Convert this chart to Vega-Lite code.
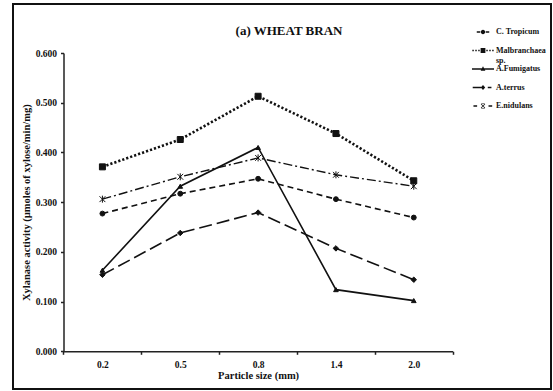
{
  "$schema": "https://vega.github.io/schema/vega-lite/v6.json",
  "width": 538,
  "height": 385,
  "autosize": {"type": "none"},
  "padding": {"left": 13, "top": 4, "right": 2, "bottom": 2},
  "background": "white",
  "config": {
    "view": {"stroke": "#111", "strokeWidth": 2},
    "font": "Liberation Serif",
    "axis": {"grid": false, "domainColor": "#222", "domainWidth": 1.5, "tickColor": "#222", "tickWidth": 1.5, "tickSize": 3, "labelFont": "Liberation Serif", "labelFontWeight": "bold", "labelFontSize": 9.5, "labelColor": "#111", "titleFont": "Liberation Serif", "titleFontWeight": "bold", "titleFontSize": 10.5, "titleColor": "#111"}
  },
  "title": {"text": "(a) WHEAT BRAN", "font": "Liberation Serif", "fontSize": 13, "fontWeight": "bold", "color": "#111", "anchor": "middle", "frame": "group", "offset": -34, "dx": 7},
  "data": {"values": [
    {"size": "0.2", "series": "C. Tropicum", "value": 0.277},
    {"size": "0.5", "series": "C. Tropicum", "value": 0.317},
    {"size": "0.8", "series": "C. Tropicum", "value": 0.347},
    {"size": "1.4", "series": "C. Tropicum", "value": 0.306},
    {"size": "2.0", "series": "C. Tropicum", "value": 0.269},
    {"size": "0.2", "series": "Malbranchaea sp.", "value": 0.371},
    {"size": "0.5", "series": "Malbranchaea sp.", "value": 0.426},
    {"size": "0.8", "series": "Malbranchaea sp.", "value": 0.513},
    {"size": "1.4", "series": "Malbranchaea sp.", "value": 0.438},
    {"size": "2.0", "series": "Malbranchaea sp.", "value": 0.343},
    {"size": "0.2", "series": "A.Fumigatus", "value": 0.163},
    {"size": "0.5", "series": "A.Fumigatus", "value": 0.332},
    {"size": "0.8", "series": "A.Fumigatus", "value": 0.410},
    {"size": "1.4", "series": "A.Fumigatus", "value": 0.124},
    {"size": "2.0", "series": "A.Fumigatus", "value": 0.102},
    {"size": "0.2", "series": "A.terrus", "value": 0.154},
    {"size": "0.5", "series": "A.terrus", "value": 0.238},
    {"size": "0.8", "series": "A.terrus", "value": 0.279},
    {"size": "1.4", "series": "A.terrus", "value": 0.207},
    {"size": "2.0", "series": "A.terrus", "value": 0.144},
    {"size": "0.2", "series": "E.nidulans", "value": 0.306},
    {"size": "0.5", "series": "E.nidulans", "value": 0.351},
    {"size": "0.8", "series": "E.nidulans", "value": 0.389},
    {"size": "1.4", "series": "E.nidulans", "value": 0.355},
    {"size": "2.0", "series": "E.nidulans", "value": 0.332}
  ]},
  "encoding": {
    "x": {"field": "size", "type": "ordinal", "sort": ["0.2", "0.5", "0.8", "1.4", "2.0"], "bandPosition": 0.5,
      "scale": {"type": "band", "range": [50.5, 439.7], "paddingInner": 0, "paddingOuter": 0},
      "axis": {"orient": "bottom", "offset": -37.7, "tickBand": "extent", "labelAngle": 0, "labelPadding": 5, "title": "Particle size (mm)", "titlePadding": 2}},
    "y": {"field": "value", "type": "quantitative",
      "scale": {"domain": [0, 0.6], "range": [347.3, 49], "nice": false, "zero": true},
      "axis": {"orient": "left", "offset": -50.5, "values": [0, 0.1, 0.2, 0.3, 0.4, 0.5, 0.6], "format": ".3f", "labelPadding": 4, "title": "Xylanase activity (µmoles of xylose/min/mg)", "titlePadding": 4}}
  },
  "layer": [
    {
      "transform": [{"filter": "datum.series == 'C. Tropicum'"}],
      "mark": {"type": "line", "color": "#111", "strokeWidth": 1.6, "strokeDash": [6, 4]},
      "encoding": {}
    },
    {
      "transform": [{"filter": "datum.series == 'Malbranchaea sp.'"}],
      "mark": {"type": "line", "color": "#111", "strokeWidth": 2.6, "strokeDash": [2.2, 2]},
      "encoding": {}
    },
    {
      "transform": [{"filter": "datum.series == 'A.Fumigatus'"}],
      "mark": {"type": "line", "color": "#111", "strokeWidth": 1.6},
      "encoding": {}
    },
    {
      "transform": [{"filter": "datum.series == 'A.terrus'"}],
      "mark": {"type": "line", "color": "#111", "strokeWidth": 1.6, "strokeDash": [13, 5]},
      "encoding": {}
    },
    {
      "transform": [{"filter": "datum.series == 'E.nidulans'"}],
      "mark": {"type": "line", "color": "#111", "strokeWidth": 1.4, "strokeDash": [9, 3, 2, 3]},
      "encoding": {}
    },
    {
      "transform": [{"filter": "datum.series == 'C. Tropicum'"}],
      "mark": {"type": "point", "shape": "circle", "size": 24, "filled": true, "color": "#111", "stroke": "#111", "strokeWidth": 1, "opacity": 1}
    },
    {
      "transform": [{"filter": "datum.series == 'Malbranchaea sp.'"}],
      "mark": {"type": "point", "shape": "square", "size": 36, "filled": true, "color": "#111", "stroke": "#111", "strokeWidth": 1, "opacity": 1}
    },
    {
      "transform": [{"filter": "datum.series == 'A.Fumigatus'"}],
      "mark": {"type": "point", "shape": "triangle-up", "size": 22, "filled": true, "color": "#111", "stroke": "#111", "strokeWidth": 1, "opacity": 1}
    },
    {
      "transform": [{"filter": "datum.series == 'A.terrus'"}],
      "mark": {"type": "point", "shape": "diamond", "size": 30, "filled": true, "color": "#111", "stroke": "#111", "strokeWidth": 1, "opacity": 1}
    },
    {
      "transform": [{"filter": "datum.series == 'E.nidulans'"}],
      "mark": {"type": "point", "shape": "M-1,-1L1,1M-1,1L1,-1M0,-1.2V1.2", "size": 34, "filled": true, "color": "#111", "stroke": "#111", "strokeWidth": 1, "opacity": 1}
    },
    {
      "transform": [{"filter": "false"}],
      "mark": {"type": "point", "filled": true, "color": "#111"},
      "encoding": {
        "shape": {"field": "series", "type": "nominal",
          "scale": {"domain": ["C. Tropicum", "Malbranchaea sp.", "A.Fumigatus", "A.terrus", "E.nidulans"],
            "range": [
              "M-1.7,-0.2H-0.75V0.2H-1.7ZM0.75,-0.2H1.7V0.2H0.75ZM-0.6,0A0.6,0.6 0 1,0 0.6,0A0.6,0.6 0 1,0 -0.6,0Z",
              "M-2.9,-0.22H-2.5V0.22H-2.9ZM-2.1,-0.22H-1.7V0.22H-2.1ZM-1.3,-0.22H-0.9V0.22H-1.3ZM0.9,-0.22H1.3V0.22H0.9ZM1.7,-0.22H2.1V0.22H1.7ZM2.5,-0.22H2.9V0.22H2.5ZM-0.65,-0.65H0.65V0.65H-0.65Z",
              "M-3,-0.18H3V0.18H-3ZM0,-0.75L0.65,0.45H-0.65Z",
              "M-2.8,-0.2H-0.5V0.2H-2.8ZM0,-0.7L0.6,0L0,0.7L-0.6,0ZM1.3,-0.2H2.3V0.2H1.3Z",
              "M-2.6,-0.18H-1.6V0.18H-2.6ZM1.5,-0.18H2.5V0.18H1.5ZM-0.6,-0.45L-0.45,-0.6L0.6,0.45L0.45,0.6ZM-0.6,0.45L0.45,-0.6L0.6,-0.45L-0.45,0.6ZM-0.45,-0.75H0.45V-0.6H-0.45ZM-0.45,0.6H0.45V0.75H-0.45Z"
            ]},
          "legend": {"orient": "none", "legendX": 466, "legendY": 24, "title": null, "padding": 0,
            "symbolSize": 54, "symbolStrokeWidth": 0.6, "symbolFillColor": "#111", "symbolStrokeColor": "#111", "symbolOpacity": 1,
            "labelFont": "Liberation Serif", "labelFontSize": 8, "labelFontWeight": "bold", "labelColor": "#111",
            "labelOffset": 9, "rowPadding": 0.5, "labelLimit": 0,
            "labelExpr": "datum.label == 'Malbranchaea sp.' ? ['Malbranchaea', 'sp.'] : [datum.label, ' ']"}
        }
      }
    }
  ]
}
